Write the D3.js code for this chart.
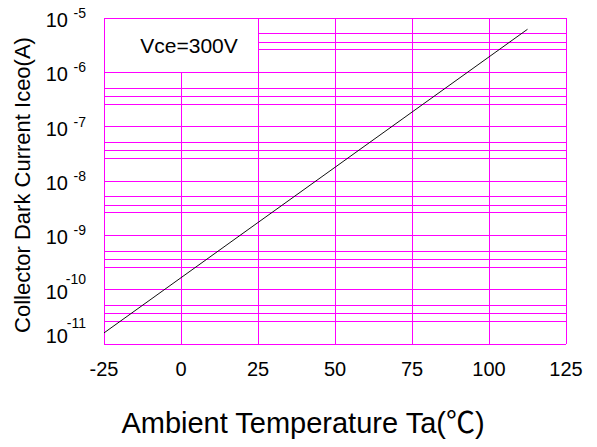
<!DOCTYPE html>
<html lang="en">
<head>
<meta charset="UTF-8">
<title>Collector Dark Current vs Ambient Temperature</title>
<script src="https://d3js.org/d3.v7.min.js"></script>
<style>
    html, body {
        margin: 0;
        background: #fff;
    }
    text {
        font-family: "Liberation Sans", Arial, sans-serif;
        fill: #000;
    }
</style>
</head>
<body>
<div id="vis"></div>
<script>
// values
var temps = [-25, 112.5];
var iceo = [1.6e-11, 6.2e-6];

var xTicks = [-25, 0, 25, 50, 75, 100, 125];
var yExponents = [-11, -10, -9, -8, -7, -6, -5];
var minorSteps = [2.6, 3.6, 5.1];
var legendText = 'Vce=300V';

var width = 597,
    height = 447;

var margin = {
    top: 18,
    bottom: 103,
    left: 104,
    right: 31
}

var svg = d3.select('#vis')
    .append('svg')
    .attr('width', width)
    .attr('height', height);

var w = width - margin.left - margin.right;
var h = height - margin.top - margin.bottom;

var g = svg.append('g')
    .attr('transform', 'translate(' + margin.left + ',' + margin.top + ')');

var x_scale = d3.scaleLinear()
    .domain([-25, 125])
    .range([0, w]);

var y_scale = d3.scaleLog()
    .domain([1e-11, 1e-5])
    .range([h, 0]);

var grid = '#ff00ff';

// horizontal grid: decades + minor lines
var hLines = [];
yExponents.forEach(function(e) {
    hLines.push({v: Math.pow(10, e), x0: -25});
    if (e < -5) {
        minorSteps.forEach(function(m) {
            // top decade leaves room for the legend box
            hLines.push({v: m * Math.pow(10, e), x0: e == -6 ? 25 : -25});
        });
    }
});

g.selectAll('.hgrid')
    .data(hLines)
    .enter()
    .append('line')
    .attr('class', 'hgrid')
    .attr('x1', function(d) { return x_scale(d.x0); })
    .attr('x2', w)
    .attr('y1', function(d) { return y_scale(d.v); })
    .attr('y2', function(d) { return y_scale(d.v); })
    .attr('stroke', grid)
    .attr('stroke-width', 1)
    .attr('shape-rendering', 'crispEdges');

g.selectAll('.vgrid')
    .data(xTicks)
    .enter()
    .append('line')
    .attr('class', 'vgrid')
    .attr('x1', function(d) { return x_scale(d); })
    .attr('x2', function(d) { return x_scale(d); })
    .attr('y1', h)
    .attr('y2', function(d) { return d == 0 ? y_scale(1e-6) : 0; })
    .attr('stroke', grid)
    .attr('stroke-width', 1)
    .attr('shape-rendering', 'crispEdges');

// legend box text
g.append('text')
    .attr('x', (x_scale(-25) + x_scale(25)) / 2 + 8)
    .attr('y', (y_scale(1e-5) + y_scale(1e-6)) / 2 + 8)
    .attr('text-anchor', 'middle')
    .style('font-size', '21px')
    .text(legendText);

// the curve
var line = d3.line()
    .x(function(d) { return x_scale(d[0]); })
    .y(function(d) { return y_scale(d[1]); });

g.append('path')
    .datum(d3.zip(temps, iceo))
    .attr('d', line)
    .attr('fill', 'none')
    .attr('stroke', '#111')
    .attr('stroke-width', 1);

// x tick labels
g.selectAll('.xlab')
    .data(xTicks)
    .enter()
    .append('text')
    .attr('class', 'xlab')
    .attr('x', function(d) { return x_scale(d); })
    .attr('y', h + 32)
    .attr('text-anchor', 'middle')
    .style('font-size', '20px')
    .text(function(d) { return d; });

// y tick labels, 10 with a raised exponent
var ylab = g.selectAll('.ylab')
    .data(yExponents)
    .enter()
    .append('g')
    .attr('class', 'ylab');

function base(e) {
    return Math.min(y_scale(Math.pow(10, e)) + 9, h - 1);
}

ylab.append('text')
    .attr('x', -36)
    .attr('y', base)
    .attr('text-anchor', 'end')
    .style('font-size', '20px')
    .text('10');

ylab.append('text')
    .attr('x', -18)
    .attr('y', function(e) { return base(e) - (e <= -10 ? 15 : 9); })
    .attr('text-anchor', 'end')
    .style('font-size', '14px')
    .text(function(e) { return e; });

// axis titles
svg.append('text')
    .attr('transform', 'translate(30,185) rotate(-90)')
    .attr('text-anchor', 'middle')
    .style('font-size', '22px')
    .text('Collector Dark Current Iceo(A)');

var xt = svg.append('text')
    .attr('x', 303)
    .attr('y', 433)
    .attr('text-anchor', 'middle')
    .style('font-size', '29px');
xt.append('tspan').text('Ambient Temperature Ta(');
xt.append('tspan').style('font-family', '"Noto Sans CJK SC", sans-serif').text('\u2103');
xt.append('tspan').text(')');
</script>
</body>
</html>
